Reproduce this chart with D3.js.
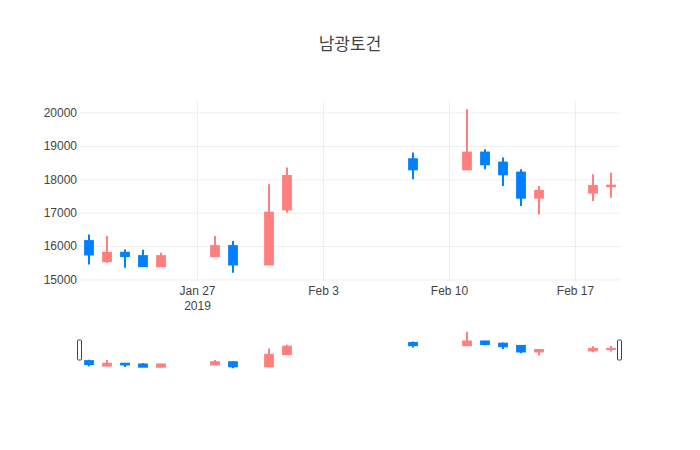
<!DOCTYPE html>
<html>
<head>
<meta charset="utf-8">
<script src="https://cdn.jsdelivr.net/npm/d3@7"></script>
<style>
  body { margin: 0; background: #fff; }
  svg { font-family: "Open Sans", "Noto Sans CJK KR", verdana, arial, sans-serif; }
</style>
</head>
<body>
<div id="chart"></div>
<script>
// 남광토건 daily prices, Jan 21 - Feb 19 2019
const dates = ['2019-01-21', '2019-01-22', '2019-01-23', '2019-01-24', '2019-01-25',
  '2019-01-28', '2019-01-29', '2019-01-31', '2019-02-01', '2019-02-08',
  '2019-02-11', '2019-02-12', '2019-02-13', '2019-02-14', '2019-02-15',
  '2019-02-18', '2019-02-19'];
const open  = [16150, 15550, 15800, 15700, 15400, 15700, 16000, 15450, 17100, 18600,
  18300, 18800, 18500, 18200, 17450, 17600, 17790];
const high  = [16350, 16300, 15900, 15890, 15800, 16300, 16150, 17850, 18350, 18800,
  20100, 18900, 18650, 18300, 17800, 18150, 18200];
const low   = [15450, 15500, 15350, 15400, 15400, 15700, 15200, 15450, 17000, 18000,
  18300, 18300, 17800, 17200, 16950, 17350, 17450];
const close = [15750, 15800, 15700, 15400, 15700, 16000, 15450, 17000, 18100, 18300,
  18800, 18450, 18150, 17450, 17650, 17800, 17810];
const yTicks = [15000, 16000, 17000, 18000, 19000, 20000];
const xTicks = ['2019-01-27', '2019-02-03', '2019-02-10', '2019-02-17'];

const W = 700, H = 450;
const margin = {left: 80, right: 80, top: 101, bottom: 169};
const pw = W - margin.left - margin.right;
const ph = H - margin.top - margin.bottom;
const slider = {top: 330, height: 40};
const upColor = '#ff7f7f', downColor = '#007fff';
const DAY = 864e5;

const parse = d3.utcParse('%Y-%m-%d');
const rows = dates.map((d, i) => ({
  date: parse(d), o: open[i], h: high[i], l: low[i], c: close[i]
}));

const svg = d3.select('#chart').append('svg')
  .attr('width', W)
  .attr('height', H);

const x = d3.scaleUtc()
  .domain([new Date(rows[0].date - DAY / 2), new Date(+rows[rows.length - 1].date + DAY / 2)])
  .range([0, pw]);

const lo = d3.min(low), hi = d3.max(high), pad = (hi - lo) * 0.05;
const y = d3.scaleLinear().domain([lo - pad, hi + pad]).range([ph, 0]);
const ySlider = d3.scaleLinear().domain(y.domain()).range([slider.height, 0]);

const g = svg.append('g').attr('transform', `translate(${margin.left},${margin.top})`);

// gridlines + tick labels
const yAxis = g.append('g')
  .call(d3.axisLeft(y).tickValues(yTicks).tickSize(-pw).tickPadding(3).tickFormat(d3.format('d')));
yAxis.select('.domain').remove();
yAxis.selectAll('line').attr('stroke', '#eee');
yAxis.selectAll('text').attr('fill', '#444').attr('font-size', 12);

const xAxis = g.append('g')
  .attr('transform', `translate(0,${ph})`)
  .call(d3.axisBottom(x).tickValues(xTicks.map(parse)).tickSize(-ph).tickPadding(5)
    .tickFormat(d3.utcFormat('%b %-d')));
xAxis.select('.domain').remove();
xAxis.selectAll('line').attr('stroke', '#eee');
xAxis.selectAll('text').attr('fill', '#444').attr('font-size', 12);
xAxis.selectAll('.tick').filter((d, i) => i === 0).select('text')
  .append('tspan').attr('x', 0).attr('dy', '1.33em').text('2019');

const bodyW = 0.6 * (x(rows[1].date) - x(rows[0].date)) - 1;

const drawCandles = (sel, ys) => {
  const c = sel.selectAll('g.candle')
    .data(rows)
    .join('g')
      .attr('class', 'candle')
      .attr('stroke', d => d.c > d.o ? upColor : downColor)
      .attr('fill', d => d.c > d.o ? upColor : downColor)
      .attr('stroke-width', 2);

  c.append('line')
    .attr('x1', d => x(d.date))
    .attr('x2', d => x(d.date))
    .attr('y1', d => ys(d.h))
    .attr('y2', d => ys(d.l));

  c.append('rect')
    .attr('x', d => x(d.date) - bodyW / 2 + 1)
    .attr('width', bodyW - 2)
    .attr('y', d => ys(Math.max(d.o, d.c)))
    .attr('height', d => Math.abs(ys(d.o) - ys(d.c)));
};

drawCandles(g.append('g'), y);

// range slider
const sg = svg.append('g').attr('transform', `translate(${margin.left},${slider.top})`);
sg.append('rect').attr('width', pw).attr('height', slider.height).attr('fill', '#fff');
drawCandles(sg.append('g'), ySlider);

[0, pw].forEach(px => {
  sg.append('rect')
    .attr('x', px - 2.5)
    .attr('y', slider.height / 4)
    .attr('width', 4)
    .attr('height', slider.height / 2)
    .attr('rx', 1)
    .attr('fill', '#fff')
    .attr('stroke', '#444')
    .attr('stroke-width', 1);
});

svg.append('text')
  .attr('x', W / 2)
  .attr('y', 50)
  .attr('text-anchor', 'middle')
  .attr('font-size', 17)
  .attr('fill', '#444')
  .text('남광토건');
</script>
</body>
</html>
